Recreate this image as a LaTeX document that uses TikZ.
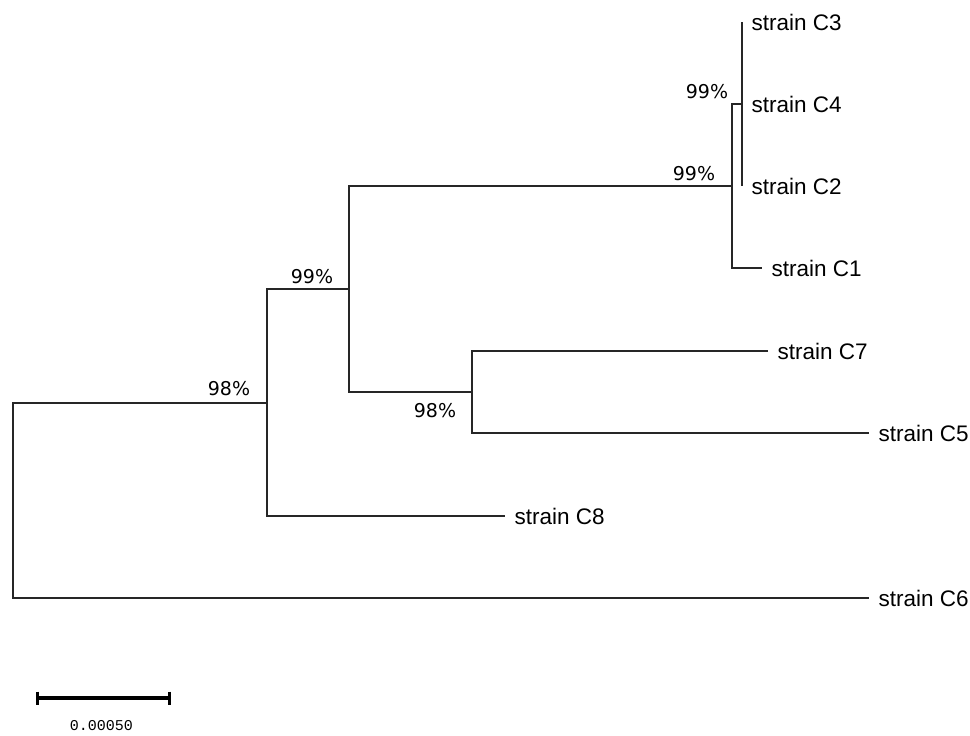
\documentclass[tikz,border=0pt]{standalone}
\usepackage{fontspec}
\setmainfont{Liberation Sans}
\newfontfamily\bootfont{DejaVu Sans}
\newfontfamily\barfont{Liberation Mono}
\usepackage{tikz}

\tikzset{
  branch/.style={line width=1.1pt, black!85},
  leaf/.style={anchor=west, inner xsep=9.5pt, inner ysep=0pt, font=\fontsize{22.5}{26}\selectfont},
  boot/.style={inner sep=0pt, font=\bootfont\fontsize{19}{22}\selectfont},
  scalebar/.style={line width=3.5pt, black}
}

\begin{document}
\begin{tikzpicture}[x=1pt,y=-1pt]
        \useasboundingbox (0,0) rectangle (970,736);

        \coordinate (r) at (13,403);
        \coordinate (n1) at (267,403);
        \coordinate (n2) at (349,289);
        \coordinate (n3) at (732,186);
        \coordinate (n4) at (742,104);
        \coordinate (n5) at (472,392);

        \node[leaf] (c3) at (742,22) {strain C3};
        \node[leaf] (c4) at (742,104) {strain C4};
        \node[leaf] (c2) at (742,186) {strain C2};
        \node[leaf] (c1) at (762,268) {strain C1};
        \node[leaf] (c7) at (768,351) {strain C7};
        \node[leaf] (c5) at (869,433) {strain C5};
        \node[leaf] (c8) at (505,516) {strain C8};
        \node[leaf] (c6) at (869,598) {strain C6};

        \draw[branch] (n1) -| (r) |- (c6.west);
        \draw[branch] (n2) -| (n1) |- (c8.west);
        \draw[branch] (n3) -| (n2) |- (n5);
        \draw[branch] (c7.west) -| (n5) |- (c5.west);
        \draw[branch] (n4) -| (n3) |- (c1.west);
        \draw[branch] (c3.west) -- (c2.west);

        \node[boot] (b1) at (229,389) {98\%};
        \node[boot] (b2) at (312,277) {99\%};
        \node[boot] (b3) at (694,174) {99\%};
        \node[boot] (b4) at (707,92) {99\%};
        \node[boot] (b5) at (435,411) {98\%};

        \coordinate (s1) at (37.5,698);
        \coordinate (s2) at (169.5,698);
        \draw[scalebar] (s1) -- (s2);
        \draw[scalebar] (s1) ++(0,-6.5) -- ++(0,13);
        \draw[scalebar] (s2) ++(0,-6.5) -- ++(0,13);
        \node[font=\barfont\fontsize{15}{18}\selectfont] (sl) at (101.5,726) {0.00050};
\end{tikzpicture}
\end{document}
